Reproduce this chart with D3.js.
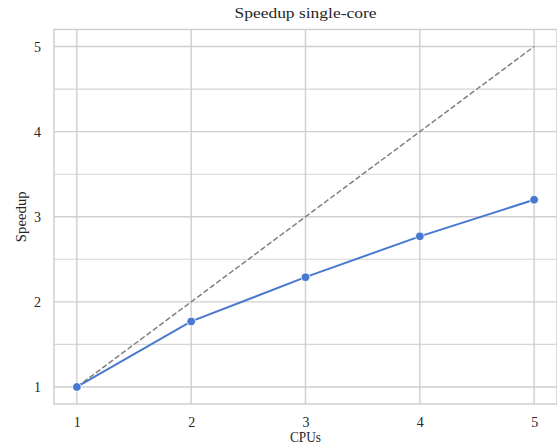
<!DOCTYPE html>
<html>
<head>
<meta charset="utf-8">
<script src="https://cdn.jsdelivr.net/npm/d3@7"></script>
<style>
  html, body { margin: 0; padding: 0; background: #fff; }
  svg { display: block; }
  text { font-family: "Liberation Serif", "DejaVu Serif", serif; fill: #262626; }
</style>
</head>
<body>
<svg id="chart" width="557" height="446"></svg>
<script>
const cpus = [1, 2, 3, 4, 5];
const speedup = [1, 1.77, 2.29, 2.77, 3.2];
const ideal = [1, 2, 3, 4, 5];
const xTicks = [1, 2, 3, 4, 5];
const yTicks = [1, 2, 3, 4, 5];
const yMinorTicks = [1.5, 2.5, 3.5, 4.5];
const title = "Speedup single-core";
const xLabel = "CPUs";
const yLabel = "Speedup";

const svg = d3.select("#chart");
const W = 557, H = 446;
const m = { left: 54, right: 0, top: 29.5, bottom: 42 };
const FONT = '"Liberation Serif", "DejaVu Serif", serif';

const x = d3.scaleLinear().domain([0.8, 5.2]).range([m.left, W - m.right]);
const y = d3.scaleLinear().domain([0.8, 5.2]).range([H - m.bottom, m.top]);

const grid = svg.append("g");
grid.selectAll("line.minor").data(yMinorTicks).join("line")
  .attr("x1", x.range()[0]).attr("x2", x.range()[1])
  .attr("y1", d => y(d)).attr("y2", d => y(d))
  .attr("stroke", "#d6d6d6").attr("stroke-width", 1.1);
grid.selectAll("line.hy").data(yTicks).join("line")
  .attr("x1", x.range()[0]).attr("x2", x.range()[1])
  .attr("y1", d => y(d)).attr("y2", d => y(d))
  .attr("stroke", "#cfcfcf").attr("stroke-width", 1.4);
grid.selectAll("line.vx").data(xTicks).join("line")
  .attr("y1", y.range()[0]).attr("y2", y.range()[1])
  .attr("x1", d => x(d)).attr("x2", d => x(d))
  .attr("stroke", "#cfcfcf").attr("stroke-width", 1.4);

svg.append("rect")
  .attr("x", x.range()[0]).attr("y", y.range()[1])
  .attr("width", x.range()[1] - x.range()[0])
  .attr("height", y.range()[0] - y.range()[1])
  .attr("fill", "none").attr("stroke", "#cccccc").attr("stroke-width", 1.4);

const xAxis = svg.append("g")
  .attr("transform", `translate(0,${y.range()[0]})`)
  .call(d3.axisBottom(x).tickValues(xTicks).tickFormat(d3.format("d")).tickSize(0).tickPadding(13));
xAxis.select(".domain").remove();
xAxis.selectAll("text").attr("font-size", 14).attr("fill", "#262626")
  .style("font-family", FONT);

const yAxis = svg.append("g")
  .attr("transform", `translate(${x.range()[0]},0)`)
  .call(d3.axisLeft(y).tickValues(yTicks).tickFormat(d3.format("d")).tickSize(0).tickPadding(13));
yAxis.select(".domain").remove();
yAxis.selectAll("text").attr("font-size", 14).attr("fill", "#262626")
  .style("font-family", FONT);

const line = d3.line().x((d, i) => x(cpus[i])).y(d => y(d));
svg.append("path").datum(ideal)
  .attr("d", line)
  .attr("fill", "none").attr("stroke", "#808080").attr("stroke-width", 1.5)
  .attr("stroke-dasharray", "5.5,2.4");

svg.append("path").datum(speedup)
  .attr("d", line)
  .attr("fill", "none").attr("stroke", "#4878d0").attr("stroke-width", 2);
svg.selectAll("circle.pt").data(speedup).join("circle")
  .attr("cx", (d, i) => x(cpus[i])).attr("cy", d => y(d))
  .attr("r", 4.3).attr("fill", "#4878d0")
  .attr("stroke", "#fff").attr("stroke-width", 0.8);

svg.append("text").attr("x", (x.range()[0] + x.range()[1]) / 2).attr("y", 18)
  .attr("text-anchor", "middle").attr("font-size", 15.5)
  .attr("textLength", 142).attr("lengthAdjust", "spacingAndGlyphs")
  .text(title);
svg.append("text").attr("x", (x.range()[0] + x.range()[1]) / 2).attr("y", 442)
  .attr("text-anchor", "middle").attr("font-size", 14)
  .attr("textLength", 31).attr("lengthAdjust", "spacingAndGlyphs")
  .text(xLabel);
svg.append("text")
  .attr("transform", `translate(26,${(y.range()[0] + y.range()[1]) / 2}) rotate(-90)`)
  .attr("text-anchor", "middle").attr("font-size", 14)
  .attr("textLength", 51).attr("lengthAdjust", "spacingAndGlyphs")
  .text(yLabel);
</script>
</body>
</html>
